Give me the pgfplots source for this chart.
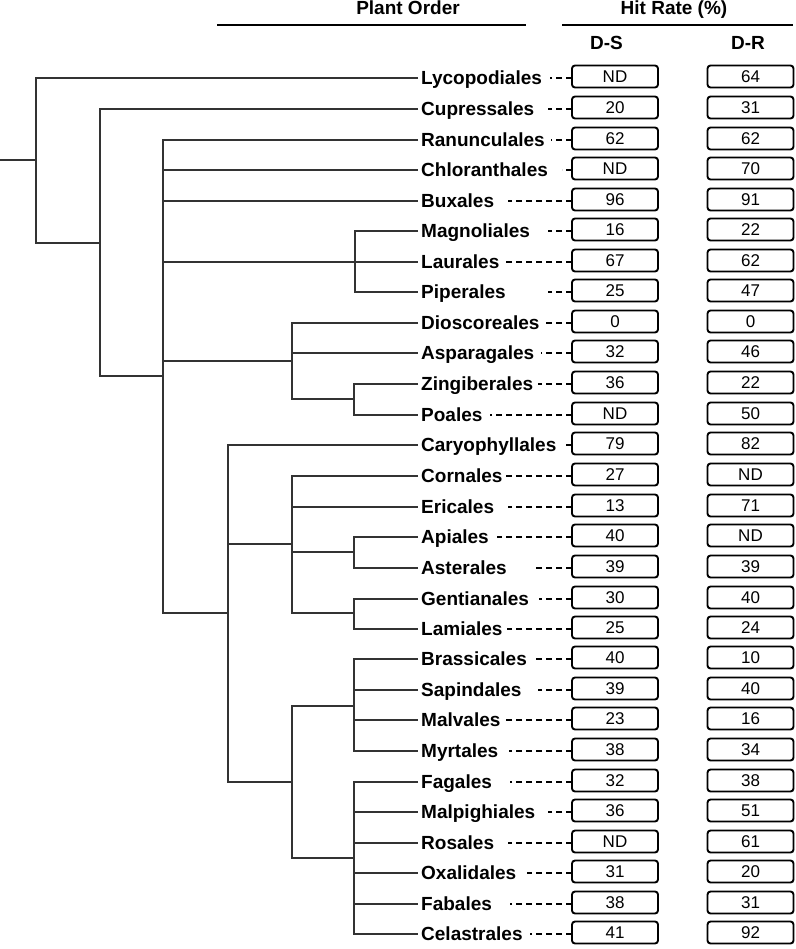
\documentclass[border=0pt]{standalone}
\usepackage{pgfplots}
\usepackage{pgfplotstable}
\pgfplotsset{compat=1.18}
\usepackage{fontspec}
\setmainfont{Liberation Sans}

\pgfplotstableread{
y name ds dr dash
78 Lycopodiales ND 64 550
109 Cupressales 20 31 548
140 Ranunculales 62 62 551
170 Chloranthales ND 70 562
201 Buxales 96 91 508
231 Magnoliales 16 22 548
262 Laurales 67 62 505
292 Piperales 25 47 548
323 Dioscoreales 0 0 545
353 Asparagales 32 46 541
384 Zingiberales 36 22 538
415 Poales ND 50 490
445 Caryophyllales 79 82 563
476 Cornales 27 ND 506
507 Ericales 13 71 508
537 Apiales 40 ND 497
568 Asterales 39 39 533
599 Gentianales 30 40 539
629 Lamiales 25 24 507
659 Brassicales 40 10 533
690 Sapindales 39 40 538
720 Malvales 23 16 504
751 Myrtales 38 34 509
782 Fagales 32 38 510
812 Malpighiales 36 51 548
843 Rosales ND 61 508
873 Oxalidales 31 20 527
904 Fabales 38 31 510
934 Celastrales 41 92 530
}\rows

\begin{document}
\begin{tikzpicture}
\begin{axis}[name=ax, width=796bp, height=949bp, scale only axis,
  xmin=0, xmax=796, ymin=0, ymax=949, y dir=reverse, hide axis, clip=false]

% tree
\addplot[black!80, line width=2.2bp, unbounded coords=jump, line join=miter] coordinates {
(0,160)(36,160) (nan,nan)
(418,78)(36,78)(36,243)(100,243) (nan,nan)
(418,109)(100,109)(100,376)(163,376) (nan,nan)
(418,140)(163,140)(163,613)(228,613) (nan,nan)
(163,170)(418,170) (nan,nan)
(163,201)(418,201) (nan,nan)
(163,262)(418,262) (nan,nan)
(418,231)(355,231)(355,292)(418,292) (nan,nan)
(163,361)(292,361) (nan,nan)
(418,323)(292,323)(292,399)(354,399) (nan,nan)
(292,353)(418,353) (nan,nan)
(418,384)(354,384)(354,415)(418,415) (nan,nan)
(418,445)(228,445)(228,782)(292,782) (nan,nan)
(228,544)(292,544) (nan,nan)
(418,476)(292,476)(292,613)(354,613) (nan,nan)
(292,507)(418,507) (nan,nan)
(292,552)(354,552) (nan,nan)
(418,537)(354,537)(354,568)(418,568) (nan,nan)
(418,599)(354,599)(354,629)(418,629) (nan,nan)
(354,706)(292,706)(292,858)(354,858) (nan,nan)
(418,659)(354,659)(354,751)(418,751) (nan,nan)
(354,690)(418,690) (nan,nan)
(354,720)(418,720) (nan,nan)
(418,782)(354,782)(354,934)(418,934) (nan,nan)
(354,812)(418,812) (nan,nan)
(354,843)(418,843) (nan,nan)
(354,873)(418,873) (nan,nan)
(354,904)(418,904)
};

% header rules
\addplot[black, line width=2.6bp, unbounded coords=jump] coordinates {(217,25)(526,25) (nan,nan) (562,25)(793,25)};

% dashed connectors
\addplot[black, line width=2bp, dash pattern=on 6bp off 4bp,
  quiver={u=\thisrow{dash}-572, v=0}] table[x expr=572, y=y] {\rows};

% labels
\addplot[draw=none, nodes near coords, point meta=explicit symbolic,
  nodes near coords style={anchor=base west, inner sep=0pt,
    font=\fontsize{19bp}{22bp}\selectfont\bfseries}]
  table[x expr=421, y expr=\thisrow{y}+6.5, meta=name] {\rows};

% D-S boxes
\addplot[draw=none, nodes near coords, point meta=explicit symbolic,
  nodes near coords style={anchor=center, inner sep=0pt, draw=black, line width=1.9bp,
    rounded corners=3bp, minimum width=86bp, minimum height=22bp, text height=12bp, text depth=0pt,
    font=\fontsize{17bp}{20bp}\selectfont}]
  table[x expr=615, y expr=\thisrow{y}-1.5, meta=ds] {\rows};

% D-R boxes
\addplot[draw=none, nodes near coords, point meta=explicit symbolic,
  nodes near coords style={anchor=center, inner sep=0pt, draw=black, line width=1.9bp,
    rounded corners=3bp, minimum width=86bp, minimum height=22bp, text height=12bp, text depth=0pt,
    font=\fontsize{17bp}{20bp}\selectfont}]
  table[x expr=750.5, y expr=\thisrow{y}-1.5, meta=dr] {\rows};

\node[anchor=base, inner sep=0pt, font=\fontsize{19bp}{22bp}\selectfont\bfseries] at (axis cs:408,15) {Plant Order};
\node[anchor=base, inner sep=0pt, font=\fontsize{19bp}{22bp}\selectfont\bfseries] at (axis cs:674,15) {Hit Rate (\%)};
\node[anchor=base, inner sep=0pt, font=\fontsize{19bp}{22bp}\selectfont\bfseries] at (axis cs:606.5,50) {D-S};
\node[anchor=base, inner sep=0pt, font=\fontsize{19bp}{22bp}\selectfont\bfseries] at (axis cs:748,50) {D-R};
\end{axis}
\pgfresetboundingbox
\path (ax.south west) rectangle (ax.north east);
\end{tikzpicture}
\end{document}
